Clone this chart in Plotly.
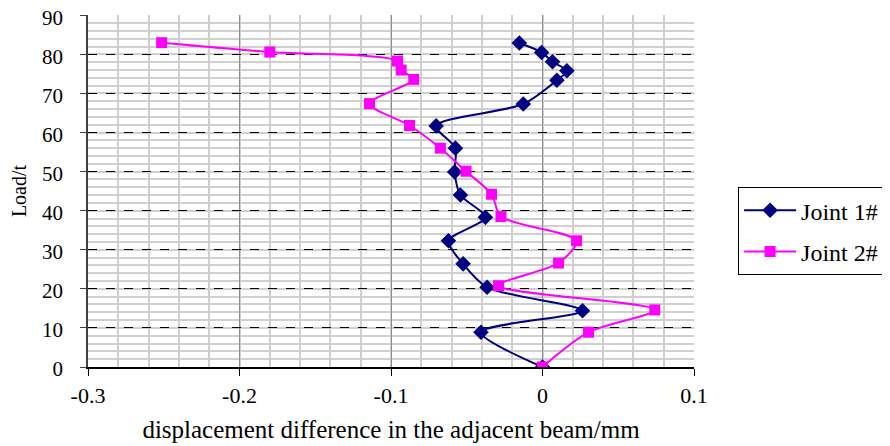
import plotly.graph_objects as go

load1 = [0, 8.9, 14.4, 20.4, 26.4, 32.3, 38.3, 44.0, 49.9, 56.0, 61.7, 67.3, 73.4, 75.8, 78.1, 80.5, 82.9]
disp1 = [0.0, -0.0406, 0.0264, -0.0366, -0.0524, -0.0621, -0.0377, -0.0542, -0.058, -0.0575, -0.0702, -0.0127, 0.0095, 0.0161, 0.0066, -0.0006, -0.0153]

load2 = [0, 8.9, 14.6, 20.8, 26.6, 32.3, 38.5, 44.2, 50.1, 56.0, 61.8, 67.4, 73.6, 76.0, 78.3, 80.6, 83.0]
disp2 = [0.0, 0.0304, 0.0741, -0.0290, 0.0106, 0.0225, -0.0274, -0.0336, -0.0505, -0.0674, -0.0878, -0.1142, -0.0850, -0.0933, -0.0957, -0.180, -0.2514]

x_ticks = [-0.3, -0.2, -0.1, 0, 0.1]
x_labels = ["-0.3", "-0.2", "-0.1", "0", "0.1"]
y_ticks = [0, 10, 20, 30, 40, 50, 60, 70, 80, 90]

FONT = "'Liberation Serif', 'Times New Roman', 'DejaVu Serif', serif"

fig = go.Figure()
fig.add_trace(go.Scatter(
    x=disp1, y=load1, name="Joint 1#", mode="lines+markers",
    line=dict(color="#000080", width=2, shape="spline", smoothing=0.8),
    marker=dict(symbol="diamond", size=12, color="#000080"),
    legendgroup="a"))
fig.add_trace(go.Scatter(
    x=disp2, y=load2, name="Joint 2#", mode="lines+markers",
    line=dict(color="#FF00FF", width=2, shape="spline", smoothing=0.8),
    marker=dict(symbol="square", size=11, color="#FF00FF"),
    legendgroup="b"))

fig.update_layout(
    width=882, height=438,
    margin=dict(l=80, r=195, t=7, b=79),
    paper_bgcolor="white", plot_bgcolor="white",
    font=dict(family=FONT, size=21, color="black"),
    showlegend=True,
    legend=dict(x=1.071, y=0.386, xanchor="left", yanchor="middle",
                bordercolor="black", borderwidth=1, itemwidth=52,
                font=dict(family=FONT, size=24), tracegroupgap=7),
    xaxis=dict(range=[-0.3, 0.1], tickvals=x_ticks, ticktext=x_labels,
               automargin=False, ticklabeloverflow="allow",
               showline=True, linecolor="black", linewidth=1.5,
               ticks="outside", ticklen=7, tickcolor="black",
               ticklabelstandoff=1,
               tickfont=dict(family=FONT, size=22),
               showgrid=True, gridcolor="#8c8c8c", gridwidth=1,
               zeroline=False,
               minor=dict(dtick=0.02, showgrid=True, gridcolor="#cfcfcf",
                          gridwidth=1.5, griddash="solid"),
               title=dict(text="displacement difference in the adjacent beam/mm",
                          font=dict(family=FONT, size=25), standoff=13)),
    yaxis=dict(range=[0, 90.08], tickvals=y_ticks,
               automargin=False, ticklabeloverflow="allow",
               showline=True, linecolor="#404040", linewidth=1.5,
               ticks="outside", ticklen=6, tickcolor="#404040",
               ticklabelstandoff=13, ticklabelshift=2,
               tickfont=dict(family=FONT, size=21),
               showgrid=True, gridcolor="black", gridwidth=1, griddash="dash",
               zeroline=False,
               minor=dict(dtick=2, showgrid=True, gridcolor="#cfcfcf",
                          gridwidth=1.5, griddash="solid"),
               title=dict(text="Load/t", font=dict(family=FONT, size=20), standoff=10)),
)

fig.write_html("out.html", config={"displayModeBar": False})
